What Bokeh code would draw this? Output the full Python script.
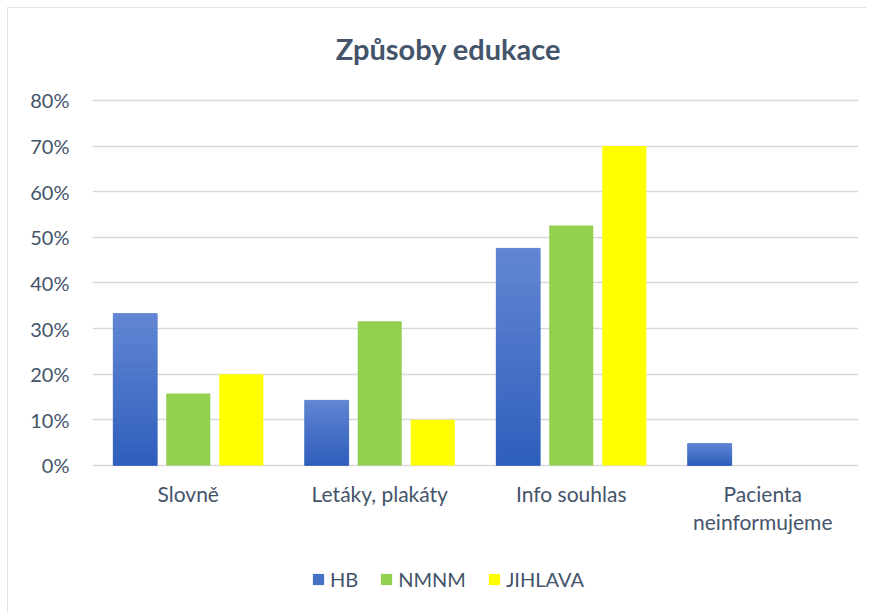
from bokeh.plotting import figure
from bokeh.models import (FactorRange, Range1d, Legend, LegendItem, PrintfTickFormatter,
                          FixedTicker, ColumnDataSource, Label)
from bokeh.core.properties import value
from bokeh.transform import dodge
from bokeh.embed import file_html
from bokeh.resources import INLINE

# ---- data ----
title_text = "Způsoby edukace"
categories = ["Slovně", "Letáky, plakáty", "Info souhlas", "Pacienta\nneinformujeme"]
series = ["HB", "NMNM", "JIHLAVA"]
hb = [33.3, 14.3, 47.6, 4.8]
nmnm = [15.8, 31.6, 52.6, 0.0]
jihlava = [20.0, 10.0, 70.0, 0.0]
y_ticks = [0, 10, 20, 30, 40, 50, 60, 70, 80]

# ---- styles ----
FONT = "Lato"
TXT = "#44546a"
GRID = "#d9d9d9"
HB_COLOR = "#4472c4"
NMNM_COLOR = "#92d050"
JIH_COLOR = "#ffff00"
HB_TOP = (99, 135, 211)
HB_BOT = (46, 94, 188)
Y_MIN, Y_MAX = -32.22, 100.16     # frame extended to hold title / labels / legend
TITLE_X, TITLE_Y = 1.859, 91.4
CAT_LABEL_Y = -3.3

p = figure(frame_width=766, frame_height=604, x_range=FactorRange(*categories),
           y_range=Range1d(Y_MIN, Y_MAX), output_backend="svg", toolbar_location=None,
           x_axis_location=None, title=None,
           min_border_left=84, min_border_right=8, min_border_top=0, min_border_bottom=0)
p.styles = {"border-left": "1px solid #dde3ea", "border-top": "1px solid #dde3ea",
            "margin-left": "7px", "margin-top": "7px"}
p.outline_line_color = None
p.background_fill_color = "white"
p.border_fill_color = "white"
p.x_range.range_padding = 0.0

src = ColumnDataSource(dict(cat=categories, hb=hb, nmnm=nmnm, jihlava=jihlava,
                            ly=[CAT_LABEL_Y] * len(categories)))
W = 0.23
OFF = 0.277

r_hb = p.vbar(x=dodge("cat", -OFF, range=p.x_range), top="hb", width=W, source=src,
              fill_color=HB_COLOR, line_color=None)

# gradient overlay for HB bars, derived from data values
N = 40
gx, gb, gt, gc = [], [], [], []
for c, v in zip(categories, hb):
    for k in range(N):
        f = (k + 0.5) / N
        col = tuple(int(round(HB_BOT[j] + (HB_TOP[j] - HB_BOT[j]) * f)) for j in range(3))
        gx.append(c)
        gb.append(v * k / N)
        gt.append(v * (k + 1) / N)
        gc.append("#%02x%02x%02x" % col)
gsrc = ColumnDataSource(dict(cat=gx, bottom=gb, top=gt, color=gc))
p.vbar(x=dodge("cat", -OFF, range=p.x_range), bottom="bottom", top="top", width=W,
       source=gsrc, fill_color="color", line_color="color", line_width=0.5)

r_nm = p.vbar(x=dodge("cat", 0.0, range=p.x_range), top="nmnm", width=W, source=src,
              fill_color=NMNM_COLOR, line_color=None)
r_ji = p.vbar(x=dodge("cat", OFF, range=p.x_range), top="jihlava", width=W, source=src,
              fill_color=JIH_COLOR, line_color=None)

# category labels (x axis)
p.text(x="cat", y="ly", text="cat", source=src, text_align="center", text_baseline="top",
       text_font=value(FONT), text_font_size="21px", text_color=TXT, text_line_height=1.15)

# title
p.add_layout(Label(x=TITLE_X, y=TITLE_Y, text=title_text, text_align="center",
                   text_baseline="middle", text_font=FONT, text_font_size="29px",
                   text_font_style="bold", text_color=TXT))

# y axis
p.yaxis.ticker = FixedTicker(ticks=y_ticks)
p.yaxis.formatter = PrintfTickFormatter(format="%d%%")
p.yaxis.axis_line_color = None
p.yaxis.major_tick_line_color = None
p.yaxis.minor_tick_line_color = None
p.yaxis.major_label_text_font = FONT
p.yaxis.major_label_text_font_size = "20px"
p.yaxis.major_label_text_color = TXT
p.yaxis.major_label_standoff = 17

p.xgrid.grid_line_color = None
p.xgrid.visible = False
p.ygrid.grid_line_color = GRID
p.ygrid.grid_line_width = 1.5

legend = Legend(items=[LegendItem(label=series[0], renderers=[r_hb]),
                       LegendItem(label=series[1], renderers=[r_nm]),
                       LegendItem(label=series[2], renderers=[r_ji])],
                orientation="horizontal", location=(219, 21))
legend.label_text_font = FONT
legend.label_text_font_size = "20px"
legend.label_text_color = TXT
legend.glyph_width = 14
legend.glyph_height = 14
legend.spacing = 21
legend.label_standoff = 5
legend.border_line_color = None
legend.background_fill_alpha = 0
legend.margin = 0
legend.padding = 5
p.add_layout(legend, "center")

open("out.html", "w").write(file_html(p, INLINE))
